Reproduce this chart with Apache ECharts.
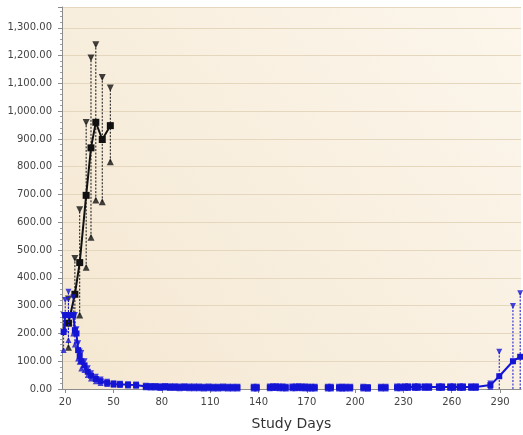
<!DOCTYPE html>
<html><head><meta charset="utf-8">
<script src="https://cdn.jsdelivr.net/npm/echarts@6/dist/echarts.min.js"></script>
<style>html,body{margin:0;padding:0;background:#fff}#c{width:523px;height:435px}</style>
</head><body><div id="c"></div>
<script>
// ---- data ----
const xTicks = [20, 50, 80, 110, 140, 170, 200, 230, 260, 290];

const blackDays  = [22, 26, 29, 33, 36, 39, 43, 48];
const blackMean  = [237, 341, 455, 697, 868, 960, 898, 948];
const blackUpper = [324, 470, 645, 959, 1191, 1239, 1121, 1083];
const blackLower = [150, 212, 266, 438, 546, 680, 674, 818];

const blueDays = [19, 20, 22, 25, 26, 27, 28, 29, 30, 32, 34, 36, 39, 42, 46, 50, 54, 59, 64,
  70, 73, 76, 79, 82, 85, 88, 91, 94, 97, 100, 103, 106, 109, 112, 115, 118, 121, 124, 127,
  132, 137, 139, 143, 147, 149, 151, 153, 155, 157, 159,
  161, 163, 165, 167, 169, 171, 173, 175, 179, 183, 185, 187,
  190, 192, 194, 197, 201, 205, 208, 212, 216, 219, 222,
  226, 228, 231, 233, 237, 239, 243, 246, 252, 254, 259, 261, 265, 267, 272, 275,
  284, 289.5, 298, 302.5];
const blueMean = [205, 266, 266, 266, 212, 200, 140, 118, 100, 85, 62, 48, 36, 28, 22, 18, 17, 15, 14,
  9, 8, 8, 7, 8, 7, 7, 6, 7, 6, 6, 6, 5, 6, 5, 5, 6, 5, 5, 5,
  null, 5, 5, null, 6, 7, 7, 6, 6, 5, null,
  6, 6, 7, 6, 6, 5, 5, 5, null, 5, 5, null,
  5, 5, 5, 5, null, 5, 4, null, 5, 5, null,
  6, 6, 7, 7, 7, 7, 7, 7, 7, 7, 7, 7, 7, 7, 7, 7,
  14, 46, 100, 116];
const blueUpper = [266, 320, 350, 330, 266, 215, 165, 135, 130, 100, 75, 57, 44, 34, 26, 21, 19, 17, 16,
  12, 11, 11, 10, 11, 10, 10, 9, 10, 9, 9, 9, 8, 9, 8, 8, 9, 8, 8, 8,
  null, 8, 8, null, 9, 10, 10, 9, 9, 8, null,
  9, 9, 10, 9, 9, 8, 8, 8, null, 8, 8, null,
  8, 8, 8, 8, null, 8, 7, null, 8, 8, null,
  9, 9, 10, 10, 10, 10, 10, 10, 10, 10, 10, 10, 10, 10, 10, 10,
  20, 134, 299, 345];
const blueLower = [140, 215, 176, 200, 160, 175, 110, 98, 74, 68, 50, 38, 28, 22, 18, 15, 14, 13, 12,
  6, 5, 5, 4, 5, 4, 4, 3, 4, 3, 3, 3, 2, 3, 2, 2, 3, 2, 2, 2,
  null, 2, 2, null, 3, 4, 4, 3, 3, 2, null,
  3, 3, 4, 3, 3, 2, 2, 2, null, 2, 2, null,
  2, 2, 2, 2, null, 2, 1, null, 2, 2, null,
  3, 3, 4, 4, 4, 4, 4, 4, 4, 4, 4, 4, 4, 4, 4, 4,
  8, null, null, null];

// ---- chart ----
const BLACK = '#111111';
const BLUE = '#1414d4';

function pairs(xs, ys) {
  const out = [];
  xs.forEach((x, i) => { if (ys[i] !== null) out.push([x, ys[i]]); });
  return out;
}
function bars(xs, lo, hi) {
  const out = [];
  xs.forEach((x, i) => { if (hi[i] !== null) out.push([x, lo[i] === null ? 0 : lo[i], hi[i]]); });
  return out;
}
function errBar(color) {
  return function (params, api) {
    const x = api.value(0);
    const p1 = api.coord([x, api.value(1)]);
    const p2 = api.coord([x, api.value(2)]);
    return {
      type: 'line',
      shape: { x1: p1[0], y1: p1[1], x2: p2[0], y2: p2[1] },
      style: { stroke: color, lineWidth: 1, lineDash: [2, 1.5] }
    };
  };
}

const chart = echarts.init(document.getElementById('c'), null, { renderer: 'canvas' });
chart.setOption({
  animation: false,
  backgroundColor: '#ffffff',
  grid: {
    left: 62, right: 2, top: 7, bottom: 46,
    show: true, borderWidth: 0,
    outerBoundsMode: 'none',
    backgroundColor: new echarts.graphic.LinearGradient(0, 1, 1, 0, [
      { offset: 0, color: '#f5e8d2' },
      { offset: 1, color: '#fcf6ec' }
    ])
  },
  xAxis: {
    type: 'value', min: 18, max: 303,
    name: 'Study Days', nameLocation: 'middle', nameGap: 28,
    nameTextStyle: { fontFamily: 'DejaVu Sans', fontSize: 14, color: '#333' },
    axisLine: { show: true, lineStyle: { color: '#8c8c8c' } },
    axisTick: { show: true, customValues: xTicks, length: 4, lineStyle: { color: '#8c8c8c' } },
    axisLabel: { customValues: xTicks, fontFamily: 'DejaVu Sans', fontSize: 10, color: '#444', margin: 8 },
    splitLine: { show: false }
  },
  yAxis: {
    type: 'value', min: 0, max: 1375, interval: 100,
    axisLine: { show: true, lineStyle: { color: '#8c8c8c' } },
    axisTick: { show: true, length: 4, lineStyle: { color: '#8c8c8c' } },
    minorTick: { show: true, splitNumber: 5, length: 2, lineStyle: { color: '#a0a0a0' } },
    axisLabel: {
      showMaxLabel: false, fontFamily: 'DejaVu Sans', fontSize: 10, color: '#444', margin: 10,
      formatter: v => v.toLocaleString('en-US', { minimumFractionDigits: 2, maximumFractionDigits: 2 })
    },
    splitLine: { show: true, lineStyle: { color: '#e4d7be', width: 1 } }
  },
  series: [
    { type: 'custom', renderItem: errBar(BLACK), data: bars(blackDays, blackLower, blackUpper), encode: { x: 0, y: [1, 2] }, z: 2 },
    { type: 'line', data: pairs(blackDays, blackMean), symbol: 'rect', symbolSize: 7, showAllSymbol: true,
      lineStyle: { color: BLACK, width: 2 }, itemStyle: { color: BLACK }, z: 3 },
    { type: 'scatter', data: pairs(blackDays, blackUpper), symbol: 'triangle', symbolRotate: 180, symbolSize: 7, itemStyle: { color: BLACK }, z: 3 },
    { type: 'scatter', data: pairs(blackDays, blackLower), symbol: 'triangle', symbolSize: 7, itemStyle: { color: BLACK }, z: 3 },
    { type: 'custom', renderItem: errBar(BLUE), data: bars(blueDays, blueLower, blueUpper), encode: { x: 0, y: [1, 2] }, z: 4 },
    { type: 'line', data: blueDays.map((d, i) => [d, blueMean[i]]), connectNulls: false, symbol: 'rect', symbolSize: 6, showAllSymbol: true,
      lineStyle: { color: BLUE, width: 2 }, itemStyle: { color: BLUE }, z: 5 },
    { type: 'scatter', data: pairs(blueDays, blueUpper), symbol: 'triangle', symbolRotate: 180, symbolSize: 6, itemStyle: { color: BLUE }, z: 5 },
    { type: 'scatter', data: pairs(blueDays, blueLower), symbol: 'triangle', symbolSize: 6, itemStyle: { color: BLUE }, z: 5 }
  ]
});
</script>
</body></html>
